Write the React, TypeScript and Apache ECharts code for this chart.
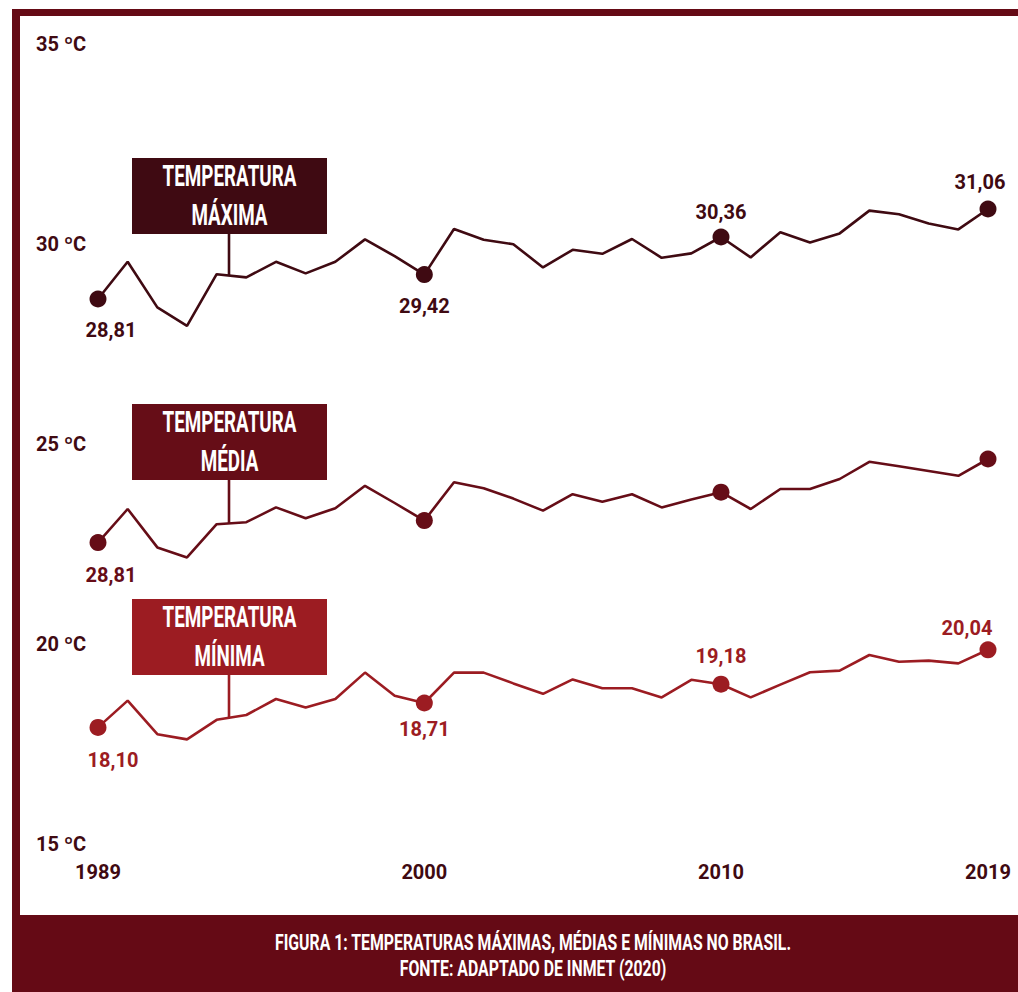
import React, { useEffect, useRef } from "react";
import * as echarts from "echarts";

// ---------- data ----------
const years = [
  "1989", "1990", "1991", "1992", "1993", "1994", "1995", "1996", "1997", "1998",
  "1999", "2000", "2001", "2002", "2003", "2004", "2005", "2006", "2007", "2008",
  "2009", "2010", "2011", "2012", "2013", "2014", "2015", "2016", "2017", "2018", "2019",
];
const shownYears = ["1989", "2000", "2010", "2019"];
const markedYears = ["1989", "2000", "2010", "2019"];

const tempMax = [
  28.81, 29.74, 28.6, 28.14, 29.43, 29.35, 29.74, 29.45, 29.74, 30.3,
  29.88, 29.42, 30.56, 30.29, 30.18, 29.6, 30.04, 29.94, 30.31, 29.84,
  29.95, 30.36, 29.85, 30.48, 30.22, 30.45, 31.02, 30.93, 30.7, 30.55, 31.06,
];
const tempMed = [
  22.72, 23.56, 22.6, 22.35, 23.18, 23.23, 23.6, 23.33, 23.58, 24.14,
  23.71, 23.27, 24.23, 24.08, 23.82, 23.52, 23.93, 23.74, 23.93, 23.6,
  23.8, 23.98, 23.56, 24.06, 24.06, 24.31, 24.74, 24.63, 24.51, 24.39, 24.81,
];
const tempMin = [
  18.1, 18.77, 17.93, 17.8, 18.29, 18.41, 18.81, 18.6, 18.81, 19.47,
  18.89, 18.71, 19.47, 19.47, 19.2, 18.94, 19.3, 19.08, 19.08, 18.85,
  19.29, 19.18, 18.85, 19.17, 19.48, 19.52, 19.91, 19.74, 19.77, 19.7, 20.04,
];

const maxLabels = ["28,81", "29,42", "30,36", "31,06"];
const medLabels = ["28,81", "", "", ""];
const minLabels = ["18,10", "18,71", "19,18", "20,04"];

const yMin = 15;
const yMax = 35;
const yStep = 5;
const yUnit = "ºC";

const boxTitle = "TEMPERATURA";
const boxNames = ["MÁXIMA", "MÉDIA", "MÍNIMA"];
const footerLines = [
  "FIGURA 1: TEMPERATURAS MÁXIMAS, MÉDIAS E MÍNIMAS NO BRASIL.",
  "FONTE: ADAPTADO DE INMET (2020)",
];

// ---------- styles ----------
const C_MAX = "#3f0a12";
const C_MED = "#660d17";
const C_MIN = "#9c1c22";
const C_FRAME = "#650a15";
const FONT = "Roboto";
const FS = 20;
const BOX_FONT = "Roboto";

// label placement per marked point: [position, distance, dx]
const maxLabelPos: [string, number, number][] = [
  ["bottom", 12, 13], ["bottom", 13, 0], ["top", 7, 0], ["top", 9, -8],
];
const medLabelPos: [string, number, number][] = [
  ["bottom", 14, 13], ["bottom", 13, 0], ["top", 7, 0], ["top", 9, 0],
];
const minLabelPos: [string, number, number][] = [
  ["bottom", 14, 15], ["bottom", 7, 0], ["top", 10, 0], ["top", 3, -21],
];

function buildData(values: number[], labels: string[], pos: [string, number, number][], color: string) {
  return values.map((v, i) => {
    const k = markedYears.indexOf(years[i]);
    if (k < 0) return v;
    const text = labels[k];
    return {
      value: v,
      symbol: "circle",
      symbolSize: 17,
      label: text
        ? {
            show: true,
            formatter: text,
            position: pos[k][0],
            distance: pos[k][1],
            offset: [pos[k][2], 0],
            color,
            fontFamily: FONT,
            fontWeight: "bold",
            fontSize: FS,
            lineHeight: 20,
          }
        : { show: false },
    };
  });
}

function lineSeries(name: string, values: number[], labels: string[], pos: [string, number, number][], color: string) {
  return {
    name,
    type: "line",
    data: buildData(values, labels, pos, color),
    symbol: "none",
    showSymbol: true,
    showAllSymbol: true,
    lineStyle: { color, width: 2.6 },
    itemStyle: { color },
    emphasis: { disabled: true },
    silent: true,
    z: 3,
  };
}

export default function App() {
  const ref = useRef<HTMLDivElement>(null);

  useEffect(() => {
    document.body.style.margin = "0";
    if (!ref.current) return;
    const chart = echarts.init(ref.current, undefined, { renderer: "svg" });

    const axisText = {
      color: C_MAX,
      fontFamily: FONT,
      fontWeight: "bold",
      fontSize: FS,
    };

    chart.setOption({
      animation: false,
      grid: { left: 98, right: 30, top: 51.4, bottom: 140.6, containLabel: false, outerBoundsMode: "none" },
      xAxis: {
        type: "category",
        data: years,
        boundaryGap: false,
        axisLine: { show: false },
        axisTick: { show: false },
        splitLine: { show: false },
        axisLabel: {
          ...axisText,
          interval: (_i: number, v: string) => shownYears.includes(v),
          margin: 11,
          lineHeight: 20,
        },
      },
      yAxis: {
        type: "value",
        min: yMin,
        max: yMax,
        interval: yStep,
        axisLine: { show: false },
        axisTick: { show: false },
        splitLine: { show: false },
        axisLabel: {
          ...axisText,
          formatter: (v: number) => `${v} ${yUnit}`,
          align: "left",
          margin: 62,
          verticalAlign: "bottom",
          lineHeight: 14,
        },
      },
      series: [
        lineSeries("Máxima", tempMax, maxLabels, maxLabelPos, C_MAX),
        lineSeries("Média", tempMed, medLabels, medLabelPos, C_MED),
        lineSeries("Mínima", tempMin, minLabels, minLabelPos, C_MIN),
      ],
    });

    // measure texts to condense them to the reference widths
    const ctx = document.createElement("canvas").getContext("2d")!;
    ctx.font = `bold 30px ${BOX_FONT}`;
    const boxScale = 134 / ctx.measureText(boxTitle).width;
    ctx.font = `bold 22px ${BOX_FONT}`;
    const footScale = 517 / ctx.measureText(footerLines[0]).width;

    const boxX = 132;
    const boxW = 195;
    const boxH = 76;
    const cx = boxX + boxW / 2;
    const connX = 229;
    const boxTops = [158, 404, 599];
    const colors = [C_MAX, C_MED, C_MIN];
    const seriesVals = [tempMax, tempMed, tempMin];

    // y of each line at connX (interpolated between neighbouring points)
    const lineYAt = (s: number) => {
      const vals = seriesVals[s];
      for (let i = 0; i < vals.length - 1; i++) {
        const p0 = chart.convertToPixel({ seriesIndex: s }, [i, vals[i]]) as number[];
        const p1 = chart.convertToPixel({ seriesIndex: s }, [i + 1, vals[i + 1]]) as number[];
        if (p0[0] <= connX && p1[0] >= connX) {
          const t = (connX - p0[0]) / (p1[0] - p0[0]);
          return p0[1] + t * (p1[1] - p0[1]);
        }
      }
      return 0;
    };

    const boxes = boxTops.map((top, s) => ({
      type: "group",
      children: [
        {
          type: "line",
          shape: { x1: connX, y1: top + boxH, x2: connX, y2: lineYAt(s) },
          style: { stroke: colors[s], lineWidth: 2.6 },
          z: 1,
        },
        {
          type: "rect",
          shape: { x: boxX, y: top, width: boxW, height: boxH },
          style: { fill: colors[s] },
          z: 5,
        },
        {
          type: "text",
          x: cx,
          y: top + 18,
          scaleX: boxScale,
          z: 6,
          style: {
            text: boxTitle,
            fill: "#ffffff",
            font: `bold 30px ${BOX_FONT}`,
            align: "center",
            verticalAlign: "middle",
          },
        },
        {
          type: "text",
          x: cx,
          y: top + 57,
          scaleX: boxScale,
          z: 6,
          style: {
            text: boxNames[s],
            fill: "#ffffff",
            font: `bold 30px ${BOX_FONT}`,
            align: "center",
            verticalAlign: "middle",
          },
        },
      ],
    }));

    chart.setOption({
      graphic: [
        { type: "rect", shape: { x: 12, y: 9, width: 1006, height: 7 }, style: { fill: C_FRAME }, z: 10 },
        { type: "rect", shape: { x: 12, y: 9, width: 8, height: 906 }, style: { fill: C_FRAME }, z: 10 },
        { type: "rect", shape: { x: 12, y: 915, width: 1006, height: 77 }, style: { fill: C_FRAME }, z: 10 },
        ...footerLines.map((t, i) => ({
          type: "text",
          x: 533,
          y: 943 + i * 26,
          scaleX: footScale,
          z: 11,
          style: {
            text: t,
            fill: "#ffffff",
            font: `bold 22px ${BOX_FONT}`,
            align: "center",
            verticalAlign: "middle",
          },
        })),
        ...boxes,
      ],
    });

    return () => chart.dispose();
  }, []);

  return <div ref={ref} style={{ width: 1018, height: 992 }} />;
}
